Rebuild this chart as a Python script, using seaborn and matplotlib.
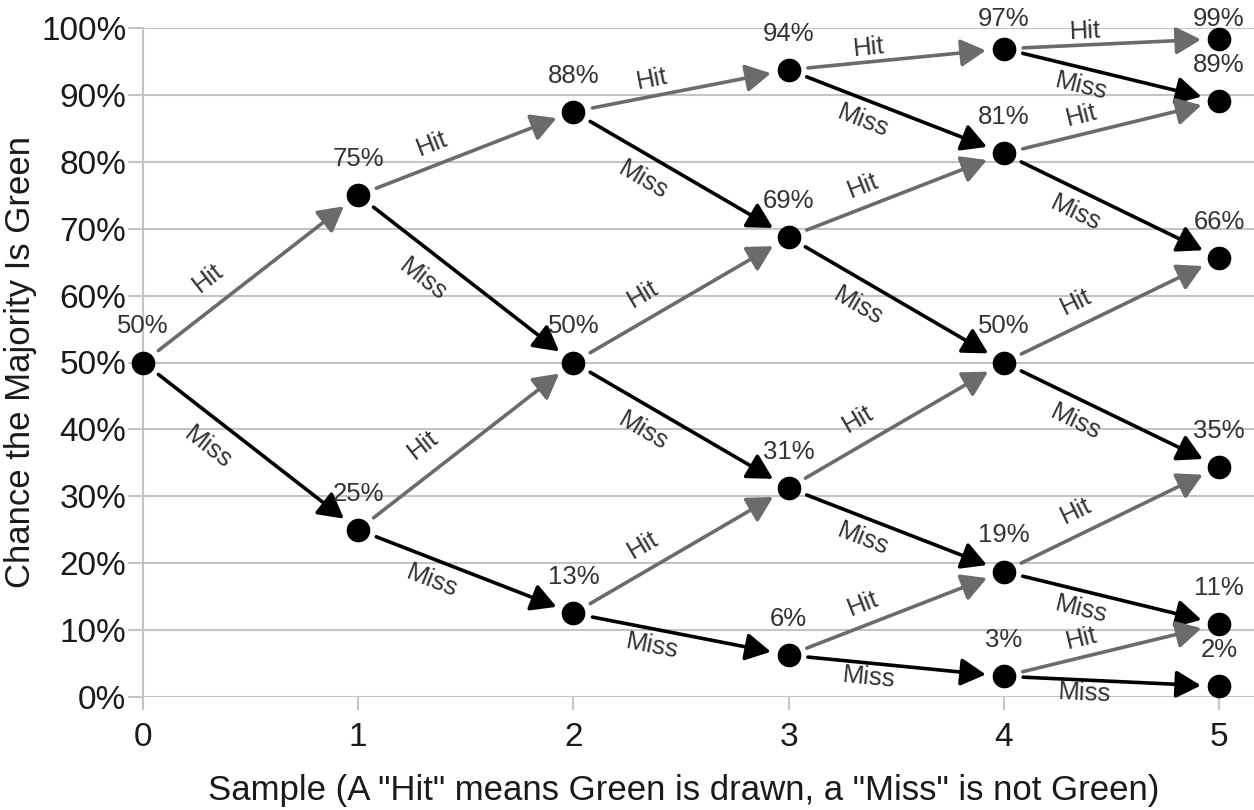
import numpy as np
import pandas as pd
import matplotlib.pyplot as plt
import seaborn as sns


# chance at each node, top to bottom, for samples 0..5
sample_0 = [0.50]
sample_1 = [0.75, 0.25]
sample_2 = [0.875, 0.50, 0.125]
sample_3 = [0.9375, 0.6875, 0.3125, 0.0625]
sample_4 = [0.969, 0.8125, 0.50, 0.1875, 0.031]
sample_5 = [0.984, 0.891, 0.656, 0.344, 0.109, 0.016]

# text printed above each node
labels_0 = ["50%"]
labels_1 = ["75%", "25%"]
labels_2 = ["88%", "50%", "13%"]
labels_3 = ["94%", "69%", "31%", "6%"]
labels_4 = ["97%", "81%", "50%", "19%", "3%"]
labels_5 = ["99%", "89%", "66%", "35%", "11%", "2%"]

x_ticks = [0, 1, 2, 3, 4, 5]
y_ticks = [0.0, 0.1, 0.2, 0.3, 0.4, 0.5, 0.6, 0.7, 0.8, 0.9, 1.0]
y_tick_labels = ["0%", "10%", "20%", "30%", "40%", "50%",
                 "60%", "70%", "80%", "90%", "100%"]

hit_color = "#6b6b6b"
miss_color = "#000000"
text_color = "#333333"


# build a long table of nodes
columns = [sample_0, sample_1, sample_2, sample_3, sample_4, sample_5]
col_labels = [labels_0, labels_1, labels_2, labels_3, labels_4, labels_5]
rows = []
for s, (vals, labs) in enumerate(zip(columns, col_labels)):
    for j, (v, l) in enumerate(zip(vals, labs)):
        rows.append({"sample": s, "idx": j, "chance": v, "label": l})
nodes = pd.DataFrame(rows)


sns.set_theme(style="white")
plt.rcParams['font.family'] = ['Liberation Sans', 'DejaVu Sans']

W, H = 1254, 810
fig = plt.figure(figsize=(W / 100, H / 100), dpi=100)
ax = fig.add_axes([143 / W, 113 / H, 1 - 143 / W, 669 / H])
ax.set_xlim(0, 1111 / 215.2)
ax.set_ylim(0, 1)

# grid + axes styling
ax.set_yticks(y_ticks)
ax.set_yticklabels(y_tick_labels)
ax.set_xticks(x_ticks)
ax.grid(axis="y", color="#c4c4c4", lw=1.5)
ax.set_axisbelow(True)
for sp in ["top", "right", "bottom"]:
    ax.spines[sp].set_visible(False)
ax.spines["left"].set_color("#c4c4c4")
ax.spines["left"].set_linewidth(1.5)
ax.tick_params(axis="y", length=11, width=1.5, color="#c4c4c4",
               labelsize=24, labelcolor="#1a1a1a", pad=1, left=True)
ax.tick_params(axis="x", length=9, width=1.5, color="#c4c4c4",
               labelsize=24, labelcolor="#1a1a1a", pad=9, bottom=True)


def edge(s, j0, j1, color, word, above):
    x0, y0 = s, columns[s][j0]
    x1, y1 = s + 1, columns[s + 1][j1]
    ax.annotate("", xy=(x1, y1), xytext=(x0, y0),
                arrowprops=dict(arrowstyle="-|>,head_length=0.4,head_width=0.22",
                                color=color, lw=2.6,
                                shrinkA=14, shrinkB=13, mutation_scale=38),
                zorder=2, annotation_clip=False)
    p0 = ax.transData.transform((x0, y0))
    p1 = ax.transData.transform((x1, y1))
    ang = np.degrees(np.arctan2(p1[1] - p0[1], p1[0] - p0[0]))
    t = 0.38
    mx, my = x0 + t * (x1 - x0), y0 + t * (y1 - y0)
    sign = 1 if above else -1
    # steeper edges carry their word a little further out
    off = (9 + 17 * abs(np.sin(np.radians(ang)))) * sign
    dx = -np.sin(np.radians(ang)) * off
    dy = np.cos(np.radians(ang)) * off
    ax.annotate(word, xy=(mx, my), xytext=(dx, dy), textcoords="offset points",
                rotation=ang, rotation_mode="anchor", ha="center", va="center",
                fontsize=18.5, color=text_color, annotation_clip=False)


for s in range(5):
    for j in range(len(columns[s])):
        edge(s, j, j, hit_color, "Hit", True)
        edge(s, j, j + 1, miss_color, "Miss", False)

sns.scatterplot(data=nodes, x="sample", y="chance", s=290, color="black",
                edgecolor="black", linewidth=0, ax=ax, zorder=3, clip_on=False,
                legend=False)
ax.set_xlabel('Sample (A "Hit" means Green is drawn, a "Miss" is not Green)',
              fontsize=25, color="#1a1a1a")
ax.set_ylabel("Chance the Majority Is Green", fontsize=25, color="#1a1a1a")
ax.xaxis.set_label_coords(0.487, -0.115)
ax.yaxis.set_label_coords(-0.095, 0.5)

for _, r in nodes.iterrows():
    py = ax.transData.transform((r["sample"], r["chance"]))[1]
    # keep the label inside the figure for the topmost node
    off = min(26.0, (H - 19 - py) * 72 / 100)
    ax.annotate(r["label"], xy=(r["sample"], r["chance"]), xytext=(0, off),
                textcoords="offset points", ha="center", va="center",
                fontsize=18.5, color=text_color, annotation_clip=False)

fig.savefig("out.png", dpi=100, facecolor="white")
